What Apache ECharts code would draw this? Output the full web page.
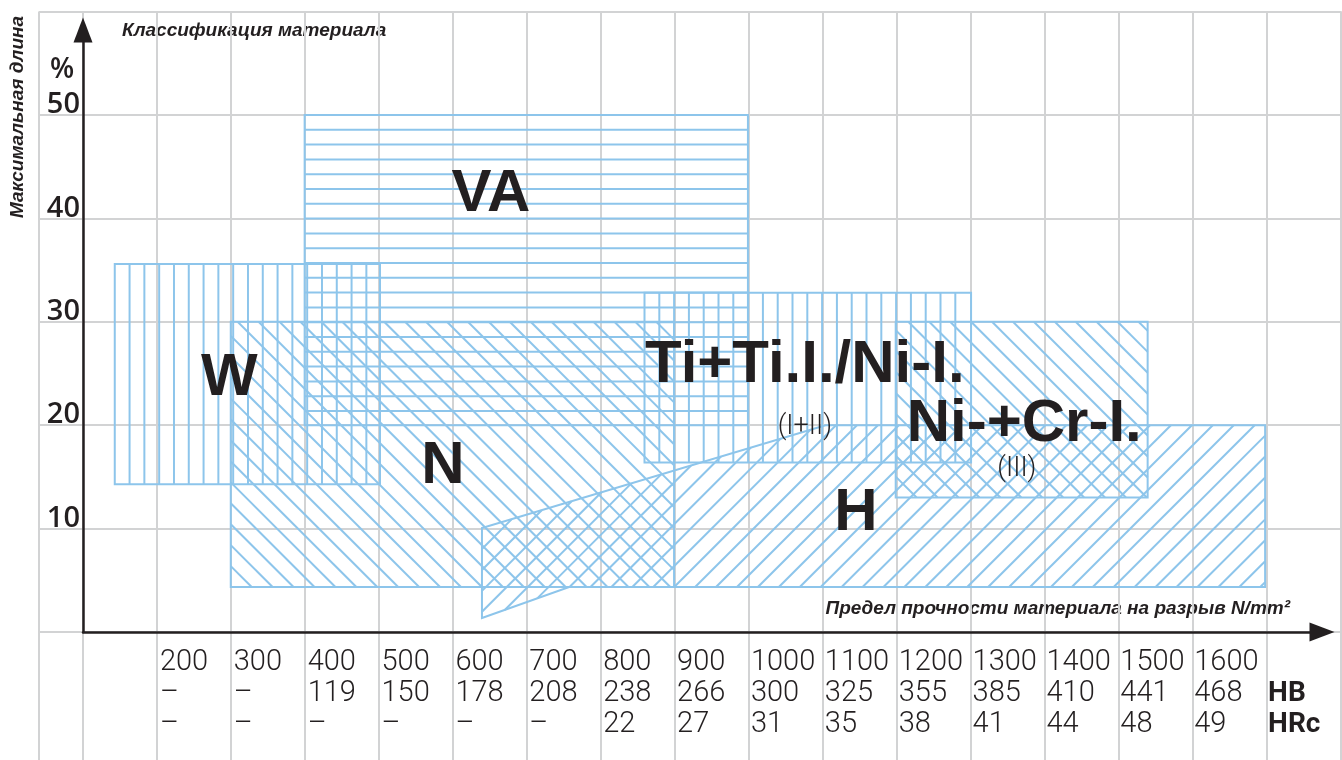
<!DOCTYPE html>
<html>
<head>
<meta charset="utf-8">
<script src="https://cdn.jsdelivr.net/npm/echarts@6/dist/echarts.min.js"></script>
<style>
  html, body { margin: 0; padding: 0; background: #fff; }
  #chart { width: 1342px; height: 760px; }
</style>
</head>
<body>
<div id="chart"></div>
<script>
// tick rows under the x axis
const strengthTicks = [200, 300, 400, 500, 600, 700, 800, 900, 1000, 1100, 1200, 1300, 1400, 1500, 1600];
const hbValues = ['–', '–', '119', '150', '178', '208', '238', '266', '300', '325', '355', '385', '410', '441', '468'];
const hrcValues = ['–', '–', '–', '–', '–', '–', '22', '27', '31', '35', '38', '41', '44', '48', '49'];
const unitLabels = ['HB', 'HRc'];
const yTicks = [10, 20, 30, 40, 50];

// material regions: [N/mm², %] outline points
const regionNames = ['W', 'VA', 'N', 'H', 'Ti+Ti.I./Ni-I.', 'Ni-+Cr-I.'];
const regionShapes = [
  [[143, 14.3], [502, 14.3], [502, 35.6], [143, 35.6]],
  [[400, 20], [1000, 20], [1000, 50], [400, 50]],
  [[300, 4.35], [900, 4.35], [900, 30], [300, 30]],
  [[640, 1.35], [758, 4.35], [1700, 4.35], [1700, 20], [1105, 20], [640, 10.05]],
  [[860, 16.4], [1302, 16.4], [1302, 32.8], [860, 32.8]],
  [[1200, 13], [1541, 13], [1541, 30], [1200, 30]]
];
const labelPoints = [[298, 24.5], [652, 42.3], [587, 16], [1146, 11.5], [1077, 25.8], [1374, 20.1]];
const subNames = ['(I+II)', '(III)'];
const subPoints = [[1077, 19.8], [1364, 15.7]];

const BLUE = '#8dc5eb';
const GRAY = '#d2d3d4';
const INK = '#231f20';
const LIGHT = '"Roboto", "Liberation Sans", sans-serif';
const hatchKind = ['v', 'h', 'd', 'a', 'v', 'd'];
const HATCH = {
  v: [1, 0],
  h: [0, 1],
  d: [Math.SQRT1_2, -Math.SQRT1_2],
  a: [Math.SQRT1_2, Math.SQRT1_2]
};

// parallel lines clipped to a polygon (pixel space)
function hatchLines(pts, kind, step) {
  const n = HATCH[kind];
  const d = [-n[1], n[0]];
  const proj = pts.map(p => p[0] * n[0] + p[1] * n[1]);
  const lo = Math.min(...proj), hi = Math.max(...proj);
  const segs = [];
  for (let o = lo + step; o < hi - 1; o += step) {
    const hits = [];
    for (let i = 0; i < pts.length; i++) {
      const j = (i + 1) % pts.length;
      const pa = proj[i], pb = proj[j];
      if ((pa <= o) !== (pb <= o)) {
        const t = (o - pa) / (pb - pa);
        hits.push([pts[i][0] + t * (pts[j][0] - pts[i][0]), pts[i][1] + t * (pts[j][1] - pts[i][1])]);
      }
    }
    hits.sort((p, q) => (p[0] * d[0] + p[1] * d[1]) - (q[0] * d[0] + q[1] * d[1]));
    for (let k = 0; k + 1 < hits.length; k += 2) segs.push([hits[k], hits[k + 1]]);
  }
  return segs;
}

const chart = echarts.init(document.getElementById('chart'));

const hidden = { show: false };
const grayLine = { show: true, lineStyle: { color: GRAY, width: 2 } };
const TOP = 11.6;

const option = {
  animation: false,
  backgroundColor: '#fff',
  grid: [
    { left: 39, right: 1, top: TOP, bottom: 0 },
    { left: 83, right: 1, top: TOP, bottom: 0 },
    { left: 39, right: 1, top: TOP, bottom: 128 },
    { left: 83, right: 1, top: TOP, bottom: 128 },
    { left: 83, right: 20, top: 30, bottom: 128 }
  ],
  xAxis: [
    { type: 'value', gridIndex: 0, min: 0, max: 1, interval: 1, axisLine: hidden, axisTick: hidden, axisLabel: hidden, splitLine: grayLine },
    { type: 'value', gridIndex: 1, min: 100, max: 1800, interval: 100, axisLine: hidden, axisTick: hidden, axisLabel: hidden, splitLine: grayLine },
    { type: 'value', gridIndex: 2, min: 0, max: 1, axisLine: hidden, axisTick: hidden, axisLabel: hidden, splitLine: hidden },
    {
      type: 'value', gridIndex: 3, min: 100, max: 1800, interval: 100,
      axisLine: hidden, axisTick: hidden, splitLine: hidden,
      axisLabel: {
        show: true, interval: 0, showMinLabel: true, showMaxLabel: true,
        align: 'left', verticalAlign: 'top', margin: 15, padding: [0, 0, 0, 3],
        fontFamily: LIGHT, fontWeight: 300,
        fontSize: 29, lineHeight: 31, color: INK,
        rich: { u: { fontWeight: 'bold', fontSize: 28, lineHeight: 31, color: INK, fontFamily: LIGHT } },
        formatter: function (value) {
          const i = strengthTicks.indexOf(value);
          if (i >= 0) return value + '\n' + hbValues[i] + '\n' + hrcValues[i];
          if (value === 1700) return ' \n{u|' + unitLabels[0] + '}\n{u|' + unitLabels[1] + '}';
          return '';
        }
      }
    },
    {
      type: 'value', gridIndex: 4, min: 0, max: 1,
      axisLine: { show: true, onZero: false, symbol: ['none', 'triangle'], symbolSize: [19, 25], lineStyle: { color: INK, width: 2.5 } },
      axisTick: hidden, axisLabel: hidden, splitLine: hidden
    }
  ],
  yAxis: [
    { type: 'value', gridIndex: 0, min: 0, max: 1, axisLine: hidden, axisTick: hidden, axisLabel: hidden, splitLine: hidden },
    { type: 'value', gridIndex: 1, min: 0, max: 1, axisLine: hidden, axisTick: hidden, axisLabel: hidden, splitLine: hidden },
    {
      type: 'value', gridIndex: 2, min: 0, max: 60, interval: 10,
      axisLine: hidden, axisTick: hidden, splitLine: grayLine,
      axisLabel: {
        show: true, inside: true, margin: 41, align: 'right', verticalAlign: 'bottom',
        fontFamily: '"Open Sans", sans-serif', fontWeight: 600, fontSize: 29, lineHeight: 20, color: INK,
        formatter: v => (yTicks.indexOf(v) >= 0 ? String(v) : '')
      }
    },
    { type: 'value', gridIndex: 3, min: 0, max: 60, interval: 10, axisLine: hidden, axisTick: hidden, axisLabel: hidden, splitLine: hidden },
    {
      type: 'value', gridIndex: 4, min: 0, max: 1,
      axisLine: { show: true, onZero: false, symbol: ['none', 'triangle'], symbolSize: [19, 25], lineStyle: { color: INK, width: 2.5 } },
      axisTick: hidden, axisLabel: hidden, splitLine: hidden
    }
  ],
  graphic: [
    { type: 'text', x: 122, y: 31, style: { text: 'Классификация материала', font: 'italic bold 19px "Liberation Sans", sans-serif', fill: INK, textVerticalAlign: 'middle' } },
    { type: 'text', x: 18, y: 117, rotation: Math.PI / 2, style: { text: 'Максимальная длина', font: 'italic bold 19px "Liberation Sans", sans-serif', fill: INK, textAlign: 'center', textVerticalAlign: 'middle' } },
    { type: 'text', x: 62, y: 70, style: { text: '%', font: '600 28px "Open Sans", sans-serif', fill: INK, textAlign: 'center', textVerticalAlign: 'middle' } },
    { type: 'text', x: 1290, y: 609, style: { text: 'Предел прочности материала на разрыв N/mm²', font: 'italic bold 19px "Liberation Sans", sans-serif', fill: INK, textAlign: 'right', textVerticalAlign: 'middle' } }
  ],
  series: [
    {
      type: 'custom',
      xAxisIndex: 3,
      yAxisIndex: 3,
      silent: true,
      data: regionNames.map((n, i) => ({ name: n, value: regionShapes[i][0] })),
      renderItem: function (params, api) {
        const i = params.dataIndex;
        const pts = regionShapes[i].map(p => api.coord(p));
        const children = hatchLines(pts, hatchKind[i], 14.8).map(s => ({
          type: 'line',
          shape: { x1: s[0][0], y1: s[0][1], x2: s[1][0], y2: s[1][1] },
          style: { stroke: BLUE, lineWidth: 2 }
        }));
        children.push({ type: 'polygon', shape: { points: pts }, style: { fill: 'none', stroke: BLUE, lineWidth: 2 } });
        return { type: 'group', children: children };
      }
    },
    {
      type: 'scatter',
      xAxisIndex: 3,
      yAxisIndex: 3,
      silent: true,
      symbolSize: 0,
      z: 5,
      itemStyle: { opacity: 1 },
      data: regionNames.map((n, i) => ({ name: n, value: labelPoints[i] })),
      label: {
        show: true, position: 'inside', formatter: '{b}', color: INK, textBorderWidth: 0, opacity: 1,
        fontFamily: '"Liberation Sans", sans-serif', fontWeight: 'bold', fontSize: 60
      }
    },
    {
      type: 'scatter',
      xAxisIndex: 3,
      yAxisIndex: 3,
      silent: true,
      symbolSize: 0,
      z: 5,
      itemStyle: { opacity: 1 },
      data: subNames.map((n, i) => ({ name: n, value: subPoints[i] })),
      label: {
        show: true, position: 'inside', formatter: '{b}', color: INK, textBorderWidth: 0, opacity: 1,
        fontFamily: LIGHT, fontWeight: 300, fontSize: 27
      }
    }
  ]
};

chart.setOption(option);
</script>
</body>
</html>
